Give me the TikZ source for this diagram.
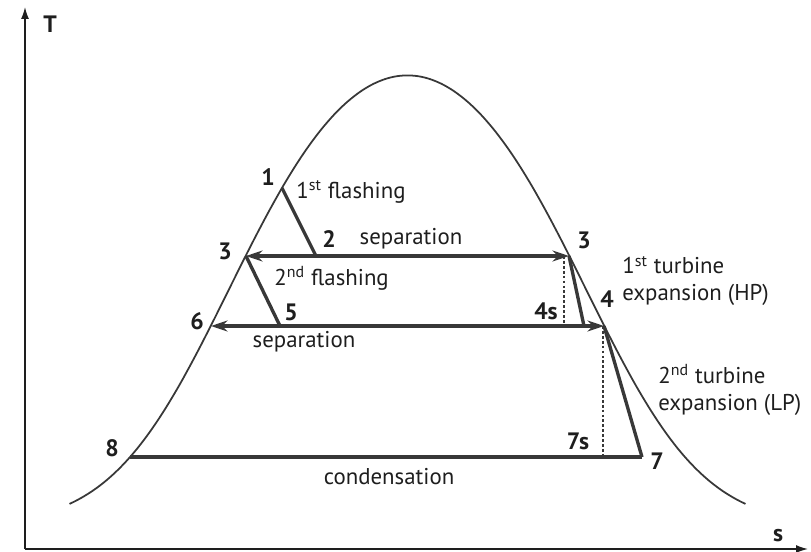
\documentclass[tikz,border=0pt]{standalone}
\usepackage{fontspec}
\setmainfont{PT Sans}
\usepackage{xcolor}
\definecolor{ts-line}{HTML}{383838}
\definecolor{ts-text}{HTML}{1E1E1E}
\usetikzlibrary{arrows.meta}
\tikzset{
  axisline/.style={ts-text, line width=0.8pt, -{Latex[length=2.4mm,width=1.6mm]}},
  dome/.style={ts-line, line width=1pt},
  process/.style={ts-line, line width=1.9pt},
  flow/.style={process, {Stealth[length=3.3mm,width=2.2mm]}-{Stealth[length=3.3mm,width=2.2mm]}},
  isentropic/.style={ts-line, line width=1.1pt, dash pattern=on 1.6pt off 1.2pt},
  statelabel/.style={font=\fontsize{13.5}{13.5}\selectfont\bfseries, text=ts-text, inner sep=0pt},
  caption/.style={font=\fontsize{13}{15.4}\selectfont, text=ts-text, inner sep=0pt, align=left},
}

\begin{document}
\begin{tikzpicture}[x=0.02cm, y=-0.02cm]

    % Frame
    \useasboundingbox (0,0) rectangle (811,551);

    % Axes
    \coordinate (origin) at (25,549);
    \coordinate (tend) at (25,7);
    \coordinate (send) at (808,549);
    \draw[axisline] (origin) -- (tend);
    \draw[axisline] (origin) -- (send);
    \node[statelabel] (taxis) at (50,24) {T};
    \node[statelabel] (saxis) at (778,536) {s};

    % Saturation dome
    \draw[dome] plot[domain=-338:338, samples=121, smooth]
        ({407.5+\x}, {75.5+450*tanh((\x/248.3)^2)});

    % State points
    \coordinate (p1) at (282,188);
    \coordinate (p2) at (316,256);
    \coordinate (p3l) at (246,256);
    \coordinate (p3r) at (569,256);
    \coordinate (p4a) at (584,326);
    \coordinate (p4s) at (564,326);
    \coordinate (p4) at (604,326);
    \coordinate (p5) at (280,326);
    \coordinate (p6) at (211,326);
    \coordinate (p7) at (642,457);
    \coordinate (p7s) at (603,457);
    \coordinate (p8) at (130,457);

    % Flashing
    \draw[process] (p1) -- (p2);
    \draw[process] (p3l) -- (p5);

    % Separation
    \draw[flow] (p3l) -- (p3r);
    \draw[flow] (p6) -- (p4);

    % Turbines
    \draw[isentropic] (p3r) ++(-5,0) coordinate (p3d) -- (p4s);
    \draw[process] (p3r) -- (p4a);
    \draw[isentropic] (p4) ++(-1,0) coordinate (p4d) -- (p7s);
    \draw[process] (p4) -- (p7);

    % Condensation
    \draw[process] (p8) -- (p7);

    % Point numbers
    \node[statelabel] (l1) at (268,177) {1};
    \node[statelabel] (l2) at (329,239) {2};
    \node[statelabel] (l3l) at (225,251) {3};
    \node[statelabel] (l3r) at (584,240) {3};
    \node[statelabel] (l4) at (607,299) {4};
    \node[statelabel] (l4s) at (546,311) {4s};
    \node[statelabel] (l5) at (291,312) {5};
    \node[statelabel] (l6) at (197,321) {6};
    \node[statelabel] (l7) at (657,461) {7};
    \node[statelabel] (l7s) at (578,441) {7s};
    \node[statelabel] (l8) at (112,448) {8};

    % Process names
    \node[caption, anchor=west] (flash1) at (296,192) {1\textsuperscript{st} flashing};
    \node[caption] (sep1) at (411,239) {separation};
    \node[caption, anchor=west] (flash2) at (274,278) {2\textsuperscript{nd} flashing};
    \node[caption] (sep2) at (304,342) {separation};
    \node[caption, anchor=west] (hp) at (622,281) {1\textsuperscript{st} turbine\\expansion (HP)};
    \node[caption, anchor=west] (lp) at (658,390) {2\textsuperscript{nd} turbine\\expansion (LP)};
    \node[caption] (cond) at (389,477) {condensation};

\end{tikzpicture}
\end{document}
